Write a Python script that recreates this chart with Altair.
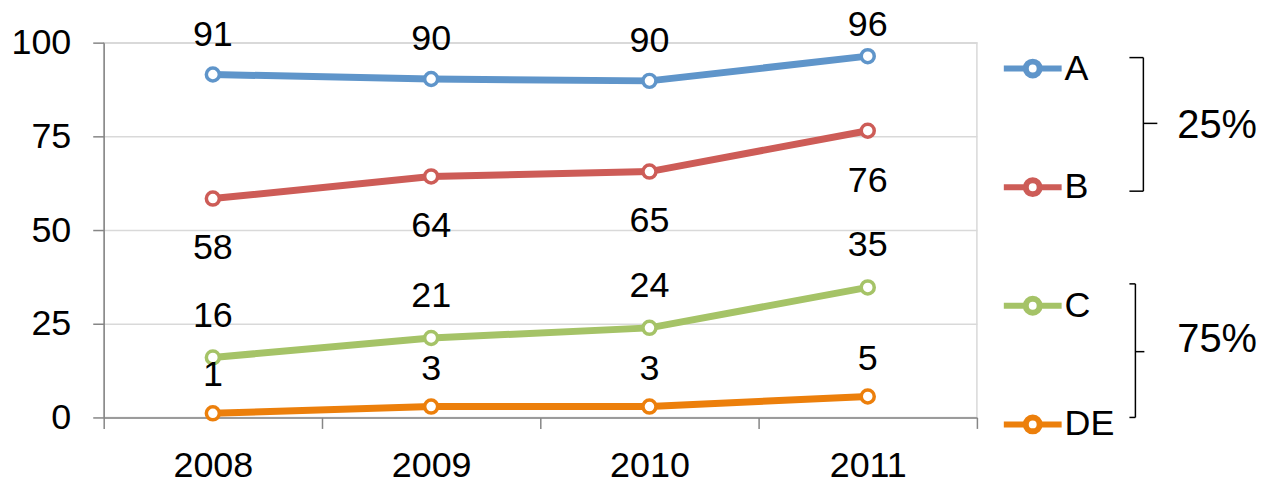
import altair as alt
import pandas as pd

years = ["2008", "2009", "2010", "2011"]
series_names = ["A", "B", "C", "DE"]
a_values = [91.5, 90.3, 89.8, 96.4]
b_values = [58.4, 64.3, 65.6, 76.5]
c_values = [16.0, 21.2, 23.9, 34.7]
de_values = [1.1, 2.9, 2.9, 5.6]
a_labels = ["91", "90", "90", "96"]
b_labels = ["58", "64", "65", "76"]
c_labels = ["16", "21", "24", "35"]
de_labels = ["1", "3", "3", "5"]
y_ticks = [0, 25, 50, 75, 100]
colors = ["#5f95ca", "#cd5c57", "#a5c367", "#ec7f0b"]
group_labels = ["25%", "75%"]

rows = []
for name, vals, labs in zip(series_names,
                            [a_values, b_values, c_values, de_values],
                            [a_labels, b_labels, c_labels, de_labels]):
    for yr, v, lab in zip(years, vals, labs):
        rows.append({"year": yr, "series": name, "value": v, "label": lab})
df = pd.DataFrame(rows)

FONT = "Liberation Sans"
FS = 36

x_enc = alt.X(
    "year:N",
    sort=years,
    bandPosition=0.5,
    scale=alt.Scale(type="band", paddingInner=0, paddingOuter=0),
    axis=alt.Axis(title=None, labelAngle=0, tickBand="extent", tickSize=11,
                  labelPadding=20, grid=False, domainColor="#868686",
                  tickColor="#868686", domainWidth=1.5, tickWidth=1.5),
)
y_enc = alt.Y(
    "value:Q",
    scale=alt.Scale(domain=[0, 100], nice=False),
    axis=alt.Axis(title=None, values=y_ticks, tickSize=11, labelPadding=22,
                  grid=True, gridColor="#d9d9d9", gridWidth=1.5,
                  domainColor="#868686", tickColor="#868686",
                  domainWidth=1.5, tickWidth=1.5),
)

r = 0.24
legend_path = (f"M-1,0L-{r},0M{r},0A{r},{r},0,1,1,-{r},0"
               f"A{r},{r},0,1,1,{r},0M{r},0L1,0")

lines = alt.Chart(df).mark_line(
    strokeWidth=7,
    point=alt.OverlayMarkDef(filled=False, fill="white", size=170, strokeWidth=3.5, opacity=1),
).encode(
    x=x_enc,
    y=y_enc,
    color=alt.Color(
        "series:N",
        scale=alt.Scale(domain=series_names, range=colors),
        legend=alt.Legend(
            title=None, orient="none", legendX=900, legendY=-6,
            symbolType=legend_path, symbolSize=3364, symbolStrokeWidth=6,
            labelFontSize=FS, labelFont=FONT, labelColor="black",
            labelOffset=0, rowPadding=68, padding=0,
        ),
    ),
    detail="series:N",
)

# label placement (offset from the point, in pixels), like Excel's label positions
label_dy = {"A": -40, "B": 50, "C": -42, "DE": -38}
label_dy_override = {("A", "2011"): -31}

text_layers = []
for name in series_names:
    special = [yr for (s, yr) in label_dy_override if s == name]
    text_layers.append(
        alt.Chart(df)
        .transform_filter(alt.datum.series == name)
        .transform_filter(alt.FieldOneOfPredicate(field="year", oneOf=[y for y in years if y not in special]))
        .mark_text(font=FONT, fontSize=FS, color="black", baseline="middle",
                   align="center", dy=label_dy[name])
        .encode(x=x_enc, y=y_enc, text="label:N")
    )
    for yr in special:
        text_layers.append(
            alt.Chart(df)
            .transform_filter((alt.datum.series == name) & (alt.datum.year == yr))
            .mark_text(font=FONT, fontSize=FS, color="black", baseline="middle",
                       align="center", dy=label_dy_override[(name, yr)])
            .encode(x=x_enc, y=y_enc, text="label:N")
        )

anno = pd.DataFrame({"k": [0]})


def seg(x1, y1, x2, y2):
    return alt.Chart(anno).mark_rule(color="black", strokeWidth=1.5).encode(
        x=alt.value(x1), x2=alt.value(x2), y=alt.value(y1), y2=alt.value(y2))


brackets = [
    seg(1043, 15, 1043, 149), seg(1029, 15, 1043, 15), seg(1029, 149, 1043, 149),
    seg(1043, 81, 1057, 81),
    seg(1035, 242, 1035, 376), seg(1029, 242, 1035, 242), seg(1029, 376, 1035, 376),
    seg(1035, 310, 1044, 310),
]

group_texts = [
    alt.Chart(anno).mark_text(font=FONT, fontSize=40, color="black", align="left",
                              baseline="middle").encode(
        x=alt.value(1077), y=alt.value(84), text=alt.value(group_labels[0])),
    alt.Chart(anno).mark_text(font=FONT, fontSize=40, color="black", align="left",
                              baseline="middle").encode(
        x=alt.value(1077), y=alt.value(298), text=alt.value(group_labels[1])),
]

chart = alt.layer(lines, *text_layers, *brackets, *group_texts).properties(
    width=876, height=376,
    autosize="none",
    padding={"left": 96, "top": 34, "right": 284, "bottom": 62},
).configure_view(
    stroke="#d9d9d9", strokeWidth=1.5
).configure_axis(
    labelFont=FONT, labelFontSize=FS, labelColor="black"
)

chart.save("out.html", embed_options={"renderer": "svg", "actions": False})
